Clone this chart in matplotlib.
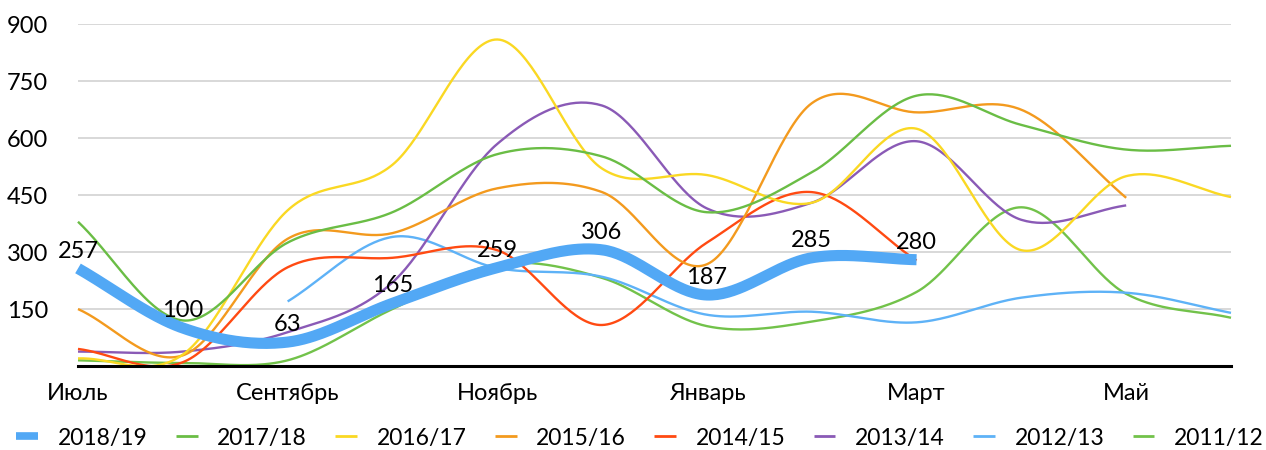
import matplotlib
matplotlib.use('Agg')
import matplotlib.pyplot as plt
import numpy as np
from matplotlib.lines import Line2D

# ---- data ----
months = ['Июль', 'Август', 'Сентябрь', 'Октябрь', 'Ноябрь', 'Декабрь',
          'Январь', 'Февраль', 'Март', 'Апрель', 'Май', 'Июнь']
tick_idx = [0, 2, 4, 6, 8, 10]
y_ticks = [150, 300, 450, 600, 750, 900]

seasons = ['2018/19', '2017/18', '2016/17', '2015/16', '2014/15', '2013/14', '2012/13', '2011/12']
v2018 = [257, 100, 63, 165, 259, 306, 187, 285, 280, None, None, None]
v2017 = [380, 120, 325, 405, 558, 552, 405, 510, 712, 635, 570, 580]
v2016 = [20, 30, 410, 530, 860, 520, 503, 430, 625, 305, 500, 445]
v2015 = [150, 28, 335, 350, 468, 458, 268, 692, 668, 675, 443, None]
v2014 = [45, 10, 260, 285, 305, 108, 325, 458, 278, None, None, None]
v2013 = [38, 38, 89, 220, 585, 686, 415, 430, 592, 385, 423, None]
v2012 = [None, None, 170, 340, 258, 235, 135, 143, 115, 180, 193, 140]
v2011 = [15, 8, 15, 150, 268, 232, 105, 117, 195, 418, 190, 127]
series = [v2018, v2017, v2016, v2015, v2014, v2013, v2012, v2011]

colors = ['#52A8F5', '#6ABD45', '#FAD823', '#F39A1E', '#FF4A12', '#8A5AB6', '#5EB2F7', '#72C24A']

plt.rcParams['font.family'] = ['Lato', 'DejaVu Sans']
FS = 17
LFS = 16.5

W, H = 1266, 450
fig = plt.figure(figsize=(W / 100, H / 100), dpi=100)
x0, x1, yb, yt = 78, 1231, 366, 24.3
ax = fig.add_axes([x0 / W, (H - yb) / H, (x1 - x0) / W, (yb - yt) / H])
ax.set_xlim(0, 11)
ax.set_ylim(0, 900)


def smooth(xs, ys, n=40):
    xs = np.asarray(xs, float)
    ys = np.asarray(ys, float)
    m = np.empty_like(ys)
    if len(ys) > 2:
        m[1:-1] = (ys[2:] - ys[:-2]) / 2.0
    m[0] = ys[1] - ys[0]
    m[-1] = ys[-1] - ys[-2]
    ox, oy = [], []
    t = np.linspace(0, 1, n, endpoint=False)
    h00 = 2 * t**3 - 3 * t**2 + 1
    h10 = t**3 - 2 * t**2 + t
    h01 = -2 * t**3 + 3 * t**2
    h11 = t**3 - t**2
    for i in range(len(ys) - 1):
        ox.append(xs[i] + t * (xs[i + 1] - xs[i]))
        oy.append(h00 * ys[i] + h10 * m[i] + h01 * ys[i + 1] + h11 * m[i + 1])
    ox.append([xs[-1]])
    oy.append([ys[-1]])
    return np.concatenate(ox), np.concatenate(oy)


# grid
for yv in y_ticks:
    ax.axhline(yv, color='#D2D2D2', lw=1.2, zorder=0)
ax.axhline(0, color='black', lw=2.2, zorder=5, clip_on=False)

# thin lines, thick 2018/19 on top
for k in range(len(series) - 1, 0, -1):
    vals = series[k]
    idx = [i for i, v in enumerate(vals) if v is not None]
    sx, sy = smooth(idx, [vals[i] for i in idx])
    ax.plot(sx, sy, color=colors[k], lw=1.7, zorder=2 + (8 - k) * 0.01,
            solid_capstyle='butt', clip_on=False)

idx = [i for i, v in enumerate(v2018) if v is not None]
sx, sy = smooth(idx, [v2018[i] for i in idx])
ax.plot(sx, sy, color=colors[0], lw=8, zorder=3, solid_capstyle='butt', clip_on=False)

for i in idx:
    ax.annotate(str(v2018[i]), (i, v2018[i]), xytext=(0, 12.5), textcoords='offset points',
                ha='center', va='center', fontsize=FS, color='black', zorder=6)

# axes styling
for s in ax.spines.values():
    s.set_visible(False)
ax.set_yticks(y_ticks)
ax.set_yticklabels([str(v) for v in y_ticks], fontsize=FS)
ax.set_xticks(tick_idx)
ax.set_xticklabels([months[i] for i in tick_idx], fontsize=FS)
ax.tick_params(axis='y', length=0, pad=21.5)
ax.tick_params(axis='x', length=0, pad=12.5)

# legend
handles = [Line2D([0], [0], color=colors[0], lw=5.5, solid_capstyle='butt')]
handles += [Line2D([0], [0], color=c, lw=2, solid_capstyle='butt') for c in colors[1:]]
fig.legend(handles, seasons, loc='center', bbox_to_anchor=(0.5055, 1 - 438 / H), ncol=8,
           frameon=False, fontsize=LFS, handlelength=0.95, handletextpad=0.85,
           columnspacing=1.24, borderpad=0, borderaxespad=0)

fig.savefig('out.png', dpi=100)
